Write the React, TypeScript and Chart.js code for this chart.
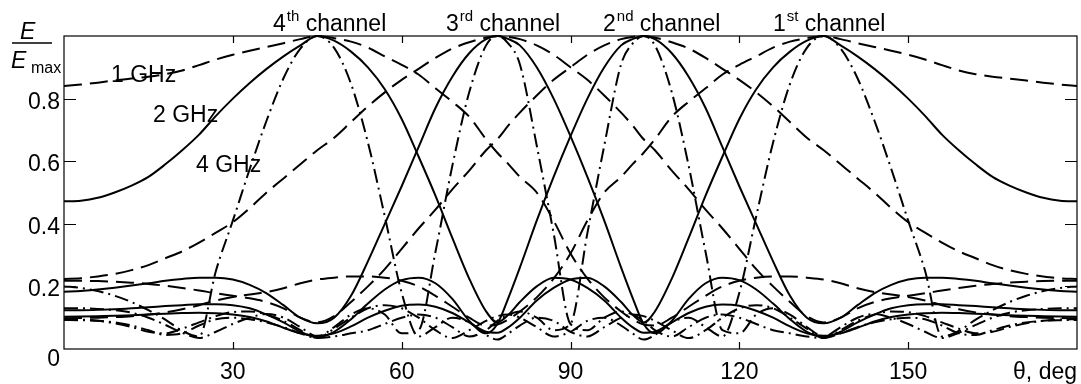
import React, { useEffect, useRef } from "react";
import { Chart, registerables } from "chart.js";

Chart.register(...registerables);

// Angle grid (deg)
const THETA = [0,3,6,9,12,15,18,21,24,27,30,33,36,39,42,45,48,51,54,57,60,63,66,69,72,75,77,79,81,84,87,90,93,96,99,101,103,105,108,111,114,117,120,123,126,129,132,135,138,141,144,147,150,153,156,159,162,165,168,171,174,177,180];

// 1 GHz (dashed)
const G1_CH4 = [0.84,0.845,0.851,0.858,0.864,0.87,0.878,0.89,0.907,0.925,0.94,0.953,0.965,0.977,0.99,1.0,0.993,0.982,0.963,0.935,0.908,0.877,0.833,0.79,0.742,0.67,0.627,0.59,0.55,0.5,0.41,0.305,0.225,0.165,0.12,0.095,0.078,0.075,0.1,0.135,0.17,0.2,0.218,0.228,0.232,0.232,0.228,0.222,0.21,0.194,0.182,0.174,0.166,0.155,0.14,0.127,0.117,0.11,0.105,0.102,0.1,0.099,0.098];
const G1_CH3 = [0.224,0.226,0.232,0.24,0.252,0.268,0.29,0.312,0.34,0.372,0.405,0.45,0.5,0.545,0.59,0.635,0.675,0.725,0.775,0.82,0.86,0.895,0.93,0.96,0.98,0.995,1.0,0.997,0.99,0.97,0.94,0.9,0.86,0.81,0.755,0.715,0.67,0.635,0.57,0.51,0.445,0.385,0.32,0.255,0.2,0.15,0.105,0.085,0.1,0.13,0.15,0.162,0.17,0.178,0.187,0.195,0.202,0.208,0.212,0.215,0.217,0.218,0.218];
const G1_CH2 = [0.218,0.218,0.217,0.215,0.212,0.208,0.202,0.195,0.187,0.178,0.17,0.162,0.15,0.13,0.1,0.085,0.105,0.15,0.2,0.255,0.32,0.385,0.445,0.51,0.57,0.635,0.67,0.715,0.755,0.81,0.86,0.9,0.94,0.97,0.99,0.997,1.0,0.995,0.98,0.96,0.93,0.895,0.86,0.82,0.775,0.725,0.675,0.635,0.59,0.545,0.5,0.45,0.405,0.372,0.34,0.312,0.29,0.268,0.252,0.24,0.232,0.226,0.224];
const G1_CH1 = [0.098,0.099,0.1,0.102,0.105,0.11,0.117,0.127,0.14,0.155,0.166,0.174,0.182,0.194,0.21,0.222,0.228,0.232,0.232,0.228,0.218,0.2,0.17,0.135,0.1,0.075,0.078,0.095,0.12,0.165,0.225,0.305,0.41,0.5,0.55,0.59,0.627,0.67,0.742,0.79,0.833,0.877,0.908,0.935,0.963,0.982,0.993,1.0,0.99,0.977,0.965,0.953,0.94,0.925,0.907,0.89,0.878,0.87,0.864,0.858,0.851,0.845,0.84];

// 2 GHz (solid)
const G2_CH4 = [0.472,0.474,0.483,0.5,0.522,0.55,0.59,0.635,0.685,0.745,0.8,0.85,0.895,0.935,0.97,1.0,0.985,0.95,0.9,0.83,0.735,0.615,0.49,0.355,0.225,0.12,0.085,0.11,0.15,0.2,0.228,0.222,0.195,0.155,0.1,0.07,0.052,0.055,0.085,0.115,0.135,0.142,0.138,0.122,0.1,0.072,0.05,0.042,0.05,0.068,0.088,0.102,0.11,0.114,0.116,0.115,0.113,0.11,0.108,0.106,0.105,0.104,0.103];
const G2_CH3 = [0.183,0.185,0.19,0.196,0.203,0.21,0.218,0.224,0.228,0.228,0.222,0.205,0.178,0.14,0.1,0.082,0.1,0.17,0.28,0.4,0.52,0.645,0.77,0.87,0.945,0.99,1.0,0.99,0.97,0.9,0.8,0.68,0.55,0.41,0.26,0.165,0.08,0.05,0.09,0.16,0.21,0.228,0.22,0.19,0.145,0.095,0.055,0.038,0.055,0.085,0.11,0.13,0.14,0.143,0.143,0.14,0.137,0.133,0.13,0.127,0.125,0.124,0.124];
const G2_CH2 = [0.124,0.124,0.125,0.127,0.13,0.133,0.137,0.14,0.143,0.143,0.14,0.13,0.11,0.085,0.055,0.038,0.055,0.095,0.145,0.19,0.22,0.228,0.21,0.16,0.09,0.05,0.08,0.165,0.26,0.41,0.55,0.68,0.8,0.9,0.97,0.99,1.0,0.99,0.945,0.87,0.77,0.645,0.52,0.4,0.28,0.17,0.1,0.082,0.1,0.14,0.178,0.205,0.222,0.228,0.228,0.224,0.218,0.21,0.203,0.196,0.19,0.185,0.183];
const G2_CH1 = [0.103,0.104,0.105,0.106,0.108,0.11,0.113,0.115,0.116,0.114,0.11,0.102,0.088,0.068,0.05,0.042,0.05,0.072,0.1,0.122,0.138,0.142,0.135,0.115,0.085,0.055,0.052,0.07,0.1,0.155,0.195,0.222,0.228,0.2,0.15,0.11,0.085,0.12,0.225,0.355,0.49,0.615,0.735,0.83,0.9,0.95,0.985,1.0,0.97,0.935,0.895,0.85,0.8,0.745,0.685,0.635,0.59,0.55,0.522,0.5,0.483,0.474,0.472];

// 4 GHz (dash-dot)
const G4_CH4 = [0.2,0.195,0.185,0.17,0.15,0.124,0.094,0.058,0.04,0.25,0.41,0.575,0.73,0.865,0.96,1.0,0.962,0.847,0.66,0.424,0.18,0.04,0.07,0.1,0.085,0.045,0.03,0.05,0.075,0.1,0.09,0.055,0.04,0.07,0.1,0.11,0.105,0.09,0.06,0.035,0.06,0.1,0.13,0.14,0.13,0.1,0.065,0.035,0.06,0.09,0.11,0.12,0.118,0.105,0.085,0.065,0.05,0.055,0.07,0.082,0.09,0.094,0.095];
const G4_CH3 = [0.13,0.13,0.128,0.124,0.116,0.1,0.077,0.052,0.035,0.055,0.08,0.1,0.112,0.1,0.07,0.04,0.07,0.11,0.13,0.11,0.05,0.06,0.31,0.585,0.82,0.97,1.0,0.975,0.91,0.65,0.37,0.08,0.06,0.1,0.12,0.11,0.09,0.06,0.04,0.07,0.1,0.11,0.1,0.08,0.06,0.05,0.04,0.035,0.05,0.07,0.085,0.095,0.1,0.095,0.075,0.05,0.045,0.06,0.075,0.085,0.09,0.092,0.093];
const G4_CH2 = [0.093,0.092,0.09,0.085,0.075,0.06,0.045,0.05,0.075,0.095,0.1,0.095,0.085,0.07,0.05,0.035,0.04,0.05,0.06,0.08,0.1,0.11,0.1,0.07,0.04,0.06,0.09,0.11,0.12,0.1,0.06,0.08,0.37,0.65,0.91,0.975,1.0,0.97,0.82,0.585,0.31,0.06,0.05,0.11,0.13,0.11,0.07,0.04,0.07,0.1,0.112,0.1,0.08,0.055,0.035,0.052,0.077,0.1,0.116,0.124,0.128,0.13,0.13];
const G4_CH1 = [0.095,0.094,0.09,0.082,0.07,0.055,0.05,0.065,0.085,0.105,0.118,0.12,0.11,0.09,0.06,0.035,0.065,0.1,0.13,0.14,0.13,0.1,0.06,0.035,0.06,0.09,0.105,0.11,0.1,0.07,0.04,0.055,0.09,0.1,0.075,0.05,0.03,0.045,0.085,0.1,0.07,0.04,0.18,0.424,0.66,0.847,0.962,1.0,0.96,0.865,0.73,0.575,0.41,0.25,0.04,0.058,0.094,0.124,0.15,0.17,0.185,0.195,0.2];

const X_TICKS = [30, 60, 90, 120, 150];
const X_TICK_LABELS = ["30", "60", "90", "120", "150"];
const Y_TICKS = [0.2, 0.4, 0.6, 0.8];
const Y_TICK_LABELS = ["0", "0.2", "0.4", "0.6", "0.8"];
const Y_LABEL_VALUES = [0, 0.2, 0.4, 0.6, 0.8];
const X_AXIS_TITLE = "θ, deg";
const CHANNEL_NUM = ["4", "3", "2", "1"];
const CHANNEL_SUP = ["th", "rd", "nd", "st"];
const CHANNEL_WORD = "channel";
const FREQ_LABELS = ["1 GHz", "2 GHz", "4 GHz"];

const FONT = '"Liberation Sans", Arial, sans-serif';

const decor = {
  id: "decor",
  afterDraw(chart: any) {
    const ctx = chart.ctx as CanvasRenderingContext2D;
    const { left, right, top, bottom } = chart.chartArea;
    const xs = chart.scales.x;
    const ys = chart.scales.y;
    ctx.save();
    ctx.strokeStyle = "#000";
    ctx.fillStyle = "#000";
    ctx.lineWidth = 1.2;
    ctx.setLineDash([]);
    ctx.strokeRect(left, top, right - left, bottom - top);
    // ticks
    ctx.beginPath();
    Y_TICKS.forEach((v) => {
      const py = Math.round(ys.getPixelForValue(v)) + 0.5;
      ctx.moveTo(left, py); ctx.lineTo(left + 12, py);
      ctx.moveTo(right, py); ctx.lineTo(right - 12, py);
    });
    X_TICKS.forEach((v) => {
      const px = Math.round(xs.getPixelForValue(v)) + 0.5;
      ctx.moveTo(px, bottom); ctx.lineTo(px, bottom - 7);
      ctx.moveTo(px, top); ctx.lineTo(px, top + 7);
    });
    ctx.stroke();
    // y labels
    ctx.font = `23px ${FONT}`;
    ctx.textAlign = "right";
    ctx.textBaseline = "alphabetic";
    Y_TICK_LABELS.forEach((lab, i) => {
      const v = Y_LABEL_VALUES[i];
      const py = ys.getPixelForValue(v);
      ctx.fillText(lab, 60, v === 0 ? py + 17 : py + 10);
    });
    // x labels
    ctx.textAlign = "center";
    X_TICK_LABELS.forEach((lab, i) => {
      ctx.fillText(lab, xs.getPixelForValue(X_TICKS[i]), 379);
    });
    ctx.textAlign = "right";
    ctx.fillText(X_AXIS_TITLE, right, 379);
    // channel titles
    const starts = [273, 446, 603, 773];
    ctx.textAlign = "left";
    CHANNEL_NUM.forEach((n, i) => {
      let x = starts[i];
      ctx.font = `23px ${FONT}`;
      ctx.fillText(n, x, 31);
      x += ctx.measureText(n).width + 1;
      ctx.font = `15px ${FONT}`;
      ctx.fillText(CHANNEL_SUP[i], x, 21);
      x += ctx.measureText(CHANNEL_SUP[i]).width;
      ctx.font = `23px ${FONT}`;
      ctx.fillText(" " + CHANNEL_WORD, x, 31);
    });
    // frequency labels
    ctx.font = `23px ${FONT}`;
    ctx.fillText(FREQ_LABELS[0], 111, 82);
    ctx.fillText(FREQ_LABELS[1], 153, 122);
    ctx.fillText(FREQ_LABELS[2], 196, 172);
    // E / Emax
    ctx.font = `italic 23px ${FONT}`;
    ctx.fillText("E", 20, 39);
    ctx.lineWidth = 1.6;
    ctx.beginPath();
    ctx.moveTo(12, 43); ctx.lineTo(52, 43);
    ctx.stroke();
    ctx.fillText("E", 11, 68);
    ctx.font = `16px ${FONT}`;
    ctx.fillText("max", 31, 73);
    ctx.restore();
  },
};

const DASHES: number[][] = [[18, 8], [], [14, 5, 2, 5]];

export default function App() {
  const ref = useRef<HTMLCanvasElement>(null);
  useEffect(() => {
    document.body.style.margin = "0";
    const series = [
      { d: G1_CH4, f: 0 }, { d: G1_CH3, f: 0 }, { d: G1_CH2, f: 0 }, { d: G1_CH1, f: 0 },
      { d: G2_CH4, f: 1 }, { d: G2_CH3, f: 1 }, { d: G2_CH2, f: 1 }, { d: G2_CH1, f: 1 },
      { d: G4_CH4, f: 2 }, { d: G4_CH3, f: 2 }, { d: G4_CH2, f: 2 }, { d: G4_CH1, f: 2 },
    ];
    const chart = new Chart(ref.current as HTMLCanvasElement, {
      type: "line",
      data: {
        datasets: series.map((s) => ({
          data: THETA.map((t, i) => ({ x: t, y: s.d[i] })),
          borderColor: "#000",
          borderWidth: 2,
          borderDash: DASHES[s.f],
          pointRadius: 0,
          cubicInterpolationMode: "monotone",
          fill: false,
          clip: 3,
        })),
      },
      options: {
        responsive: false,
        animation: false,
        devicePixelRatio: 1,
        events: [],
        layout: { padding: { left: 64, right: 4, top: 36, bottom: 35 } },
        plugins: { legend: { display: false }, tooltip: { enabled: false } },
        scales: {
          x: { type: "linear", min: 0, max: 180, display: false },
          y: { type: "linear", min: 0, max: 1, display: false },
        },
      },
      plugins: [decor],
    } as any);
    return () => chart.destroy();
  }, []);
  return <canvas ref={ref} width={1081} height={384} style={{ display: "block" }} />;
}
